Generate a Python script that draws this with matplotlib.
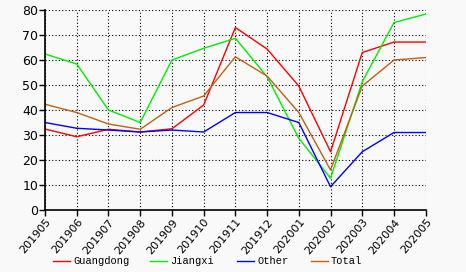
import matplotlib
matplotlib.use("Agg")
import matplotlib.pyplot as plt
from matplotlib.lines import Line2D

months = ["201905","201906","201907","201908","201909","201910","201911",
          "201912","202001","202002","202003","202004","202005"]
guangdong = [32.4, 29.3, 32.3, 31.2, 32.5, 42.0, 73.0, 64.4, 49.6, 23.3, 63.0, 67.2, 67.2]
jiangxi   = [62.4, 58.4, 40.0, 35.0, 60.0, 64.7, 68.7, 53.3, 28.7, 12.7, 51.3, 75.0, 78.4]
other     = [35.0, 32.7, 32.0, 31.2, 32.0, 31.2, 39.0, 39.0, 35.0, 9.3, 23.3, 31.0, 31.0]
total     = [42.3, 39.0, 34.4, 32.3, 41.0, 45.6, 61.3, 53.6, 39.0, 16.0, 49.6, 60.0, 61.0]

series = [("Guangdong", guangdong, "#ff0000"),
          ("Jiangxi", jiangxi, "#00ee00"),
          ("Other", other, "#0000ff"),
          ("Total", total, "#c06010")]

bg = "#f9f9f9"
W, H = 466, 272
fig = plt.figure(figsize=(W / 100, H / 100), dpi=100, facecolor=bg)
ax = fig.add_axes([0.0966, 0.228, 0.8169, 0.735], facecolor=bg)

x = list(range(len(months)))
for name, vals, col in series:
    ax.plot(x, vals, color=col, lw=1.0, label=name)

ax.set_xlim(0, len(months) - 1)
ax.set_ylim(0, 80)
ax.set_yticks(range(0, 81, 10))
ax.set_xticks(x)
ax.set_xticklabels(months, rotation=50, ha="right", rotation_mode="anchor", fontsize=8)
ax.tick_params(axis="y", labelsize=9, length=4, width=1, pad=1)
ax.tick_params(axis="x", length=4, width=1, pad=1)
ax.grid(True, color="black", ls=(0, (1, 2)), lw=0.8)
for s in ["top", "right"]:
    ax.spines[s].set_visible(False)
for s in ["left", "bottom"]:
    ax.spines[s].set_linewidth(1.2)

# legend entries placed along the bottom
starts = [53, 150, 237, 311]
ly = 1 - 261 / H
for (name, vals, col), sx in zip(series, starts):
    fig.add_artist(Line2D([sx / W, (sx + 17) / W], [ly, ly], color=col, lw=1.0,
                          transform=fig.transFigure))
    fig.text((sx + 20) / W, ly, name, ha="left", va="center",
             family="Liberation Mono", fontsize=7.5)

fig.savefig("out.png", dpi=100, facecolor=bg)
